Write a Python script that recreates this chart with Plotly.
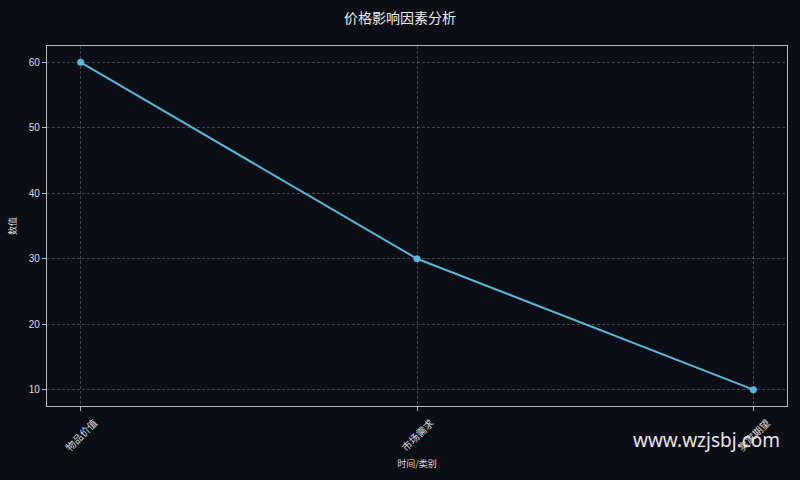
import plotly.graph_objects as go

categories = ["物品价值", "市场需求", "卖家期望"]
values = [60, 30, 10]
y_ticks = [10, 20, 30, 40, 50, 60]

BG = "#0b0e15"
FONT = "Liberation Sans, Noto Sans CJK SC"

fig = go.Figure()
fig.add_trace(go.Scatter(
    x=categories, y=values, mode="lines+markers",
    line=dict(color="#5cb6d8", width=2),
    marker=dict(color="#5cb6d8", size=7),
    showlegend=False,
))

axis_common = dict(
    showline=True, linecolor="#bbbbbb", linewidth=1.2, mirror=True,
    showgrid=True, gridcolor="rgba(140,140,140,0.45)", griddash="3px,2px", gridwidth=0.8,
    ticks="outside", ticklen=4, tickcolor="#bbbbbb",
    tickfont=dict(family=FONT, size=10, color="#dddddd"),
    zeroline=False,
)

fig.update_layout(
    width=800, height=480,
    paper_bgcolor=BG, plot_bgcolor=BG,
    margin=dict(l=46, r=12, t=46, b=73),
    title=dict(text="价格影响因素分析", x=0.5, xanchor="center", y=0.962, yanchor="middle",
               font=dict(family="Noto Sans CJK SC", size=14, color="#eeeeee")),
    xaxis=dict(type="category", range=[-0.1, 2.1], tickangle=-45,
               ticklabelshift=14, ticklabelstandoff=2,
               title=dict(text="时间/类别", font=dict(family="Noto Sans CJK SC", size=9, color="#dddddd"), standoff=8),
               **axis_common),
    yaxis=dict(range=[7.5, 62.5], tickvals=y_ticks,
               title=dict(text="数值", font=dict(family="Noto Sans CJK SC", size=9, color="#dddddd"), standoff=10),
               **axis_common),
    annotations=[dict(text="www.wzjsbj.com", xref="paper", yref="paper",
                      x=0.993, y=-0.095, xanchor="right", yanchor="middle", showarrow=False,
                      font=dict(family="Noto Sans", size=19, color="#e6e6e6"))],
)

fig.write_html("out.html", config={"displayModeBar": False},
               post_script="document.body.style.margin='0';document.body.style.background='%s';" % BG)
